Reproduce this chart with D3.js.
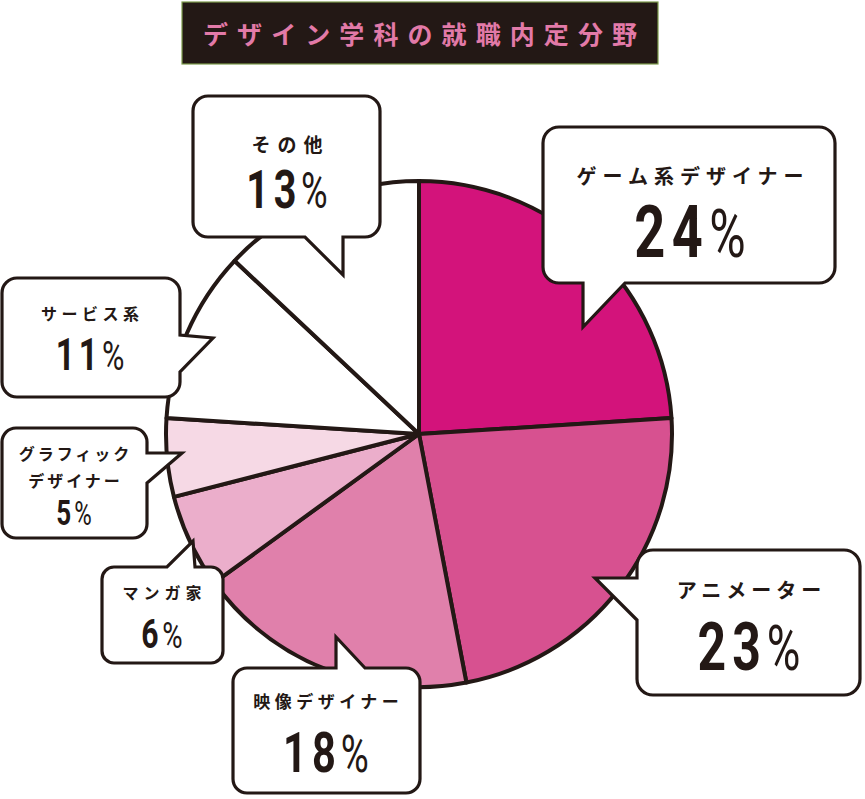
<!DOCTYPE html>
<html>
<head>
<meta charset="utf-8">
<script src="https://cdn.jsdelivr.net/npm/d3@7"></script>
<style>
html,body{margin:0;padding:0;background:#fff;}
svg{display:block;}
</style>
</head>
<body>
<svg id="chart" width="865" height="799"></svg>
<script>
// ---- data ----
const title = "デザイン学科の就職内定分野";
const categories = ["ゲーム系デザイナー", "アニメーター", "映像デザイナー", "マンガ家", "グラフィック\nデザイナー", "サービス系", "その他"];
const values = [24, 23, 18, 6, 5, 11, 13];
const sliceColors = ["#d3137b", "#d75190", "#e080ab", "#ebaecb", "#f6d9e5", "#ffffff", "#ffffff"];

// ---- layout ----
const INK = "#231815";
const svg = d3.select("#chart");
const cx = 419, cy = 434, R = 253;

// title
svg.append("rect").attr("x", 182).attr("y", 2).attr("width", 476).attr("height", 62)
  .attr("fill", INK).attr("stroke", "#7c9b4c").attr("stroke-width", 1.2);
const titleText = svg.append("text").attr("x", 203).attr("y", 44)
  .attr("text-anchor", "start")
  .attr("font-family", "'Noto Sans CJK JP', sans-serif").attr("font-weight", 700)
  .attr("font-size", 25).attr("fill", "#e27aa8")
  .text(title);
(function fit() {
  const w = titleText.node().getComputedTextLength();
  const target = 434;
  const n = title.length;
  titleText.attr("letter-spacing", (target - w) / (n - 1));
})();

// pie
const pie = d3.pie().sort(null).value(d => d);
const arc = d3.arc().innerRadius(0).outerRadius(R);
const g = svg.append("g").attr("transform", `translate(${cx},${cy})`);
g.selectAll("path").data(pie(values)).join("path")
  .attr("d", arc)
  .attr("fill", (d, i) => sliceColors[i])
  .attr("stroke", INK).attr("stroke-width", 4).attr("stroke-linejoin", "round");

// callouts: box + tail (layout only)
const callouts = [
  {box: [543, 127, 292, 156], r: 16, tail: {side: "bottom", pts: [[625, 283], [583, 327], [583, 283]]},
   labelY: 184, labelSize: 20, ls: 6, cxT: 690, numY: 257, cap: 52},
  {box: [637, 550, 223, 145], r: 16, tail: {side: "left", pts: [[637, 620], [595, 578], [637, 578]]},
   labelY: 598, labelSize: 20, ls: 5, cxT: 749, numY: 670, cap: 48},
  {box: [233, 668, 187, 125], r: 14, tail: {side: "top", pts: [[336, 668], [336, 637], [365, 668]]},
   labelY: 708, labelSize: 17, ls: 4.5, cxT: 326, numY: 772, cap: 40},
  {box: [102, 567, 121, 96], r: 12, tail: {side: "top", pts: [[167, 567], [193, 541], [195, 567]]},
   labelY: 599, labelSize: 16, ls: 5, cxT: 162, numY: 648, cap: 29},
  {box: [2, 428, 145, 110], r: 14, tail: {side: "right", pts: [[147, 453], [182, 453], [147, 483]]},
   labelY: 460, labelSize: 16, ls: 3, lineGap: 27, cxT: 74, numY: 525, cap: 25},
  {box: [2, 278, 178, 119], r: 15, tail: {side: "right", pts: [[180, 335], [213, 338], [180, 372]]},
   labelY: 320, labelSize: 16, ls: 4.5, cxT: 90, numY: 370, cap: 32},
  {box: [193, 96, 187, 141], r: 15, tail: {side: "bottom", pts: [[343, 237], [343, 275], [305, 237]]},
   labelY: 152, labelSize: 19, ls: 7, cxT: 287, numY: 208, cap: 38}
];

function calloutPath(c) {
  const [x, y, w, h] = c.box, r = c.r, t = c.tail;
  const p = d3.path();
  const tailPts = side => { if (t.side === side) t.pts.forEach(q => p.lineTo(q[0], q[1])); };
  p.moveTo(x + r, y);
  tailPts("top");
  p.lineTo(x + w - r, y);
  p.arcTo(x + w, y, x + w, y + r, r);
  tailPts("right");
  p.lineTo(x + w, y + h - r);
  p.arcTo(x + w, y + h, x + w - r, y + h, r);
  tailPts("bottom");
  p.lineTo(x + r, y + h);
  p.arcTo(x, y + h, x, y + h - r, r);
  tailPts("left");
  p.lineTo(x, y + r);
  p.arcTo(x, y, x + r, y, r);
  p.closePath();
  return p.toString();
}

const cg = svg.append("g");
callouts.forEach((c, i) => {
  cg.append("path").attr("d", calloutPath(c))
    .attr("fill", "#fff").attr("stroke", INK).attr("stroke-width", 3.2).attr("stroke-linejoin", "miter");
  const lines = categories[i].split("\n");
  lines.forEach((ln, k) => {
    cg.append("text")
      .attr("x", c.cxT + c.ls / 2).attr("y", c.labelY + k * (c.lineGap || 0))
      .attr("text-anchor", "middle")
      .attr("font-family", "'Noto Sans CJK JP', sans-serif").attr("font-weight", 700)
      .attr("font-size", c.labelSize).attr("letter-spacing", c.ls).attr("fill", INK)
      .text(ln);
  });
  const fs = c.cap / 0.711;
  const t = cg.append("text")
    .attr("transform", `translate(${c.cxT},${c.numY}) scale(0.74,1)`)
    .attr("text-anchor", "middle")
    .attr("font-family", "Roboto, 'DejaVu Sans', sans-serif").attr("fill", INK);
  t.append("tspan").attr("font-weight", 700).attr("font-size", fs)
    .attr("letter-spacing", fs * 0.12).text(String(values[i]));
  t.append("tspan").attr("font-weight", 400).attr("font-size", fs * 0.92).text("%");
});
</script>
</body>
</html>
